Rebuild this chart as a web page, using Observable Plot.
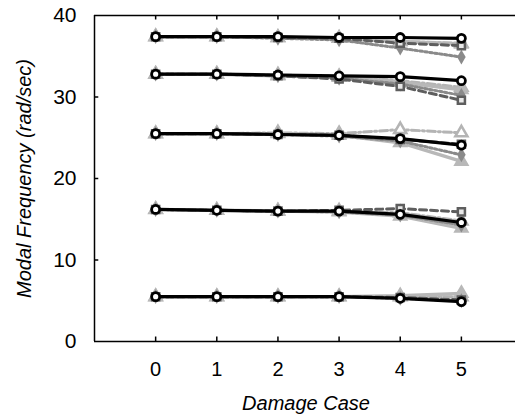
<!DOCTYPE html>
<html>
<head>
<meta charset="utf-8">
<script src="https://cdn.jsdelivr.net/npm/d3@7"></script>
<script src="https://cdn.jsdelivr.net/npm/@observablehq/plot@0.6"></script>
<style>
  html, body { margin: 0; padding: 0; background: #fff; }
  #chart svg { display: block; }
</style>
</head>
<body>
<div id="chart"></div>
<script>
// Damage cases (x) and axis ticks
const cases = [0, 1, 2, 3, 4, 5];
const xTicks = [0, 1, 2, 3, 4, 5];
const yTicks = [0, 10, 20, 30, 40];
const yInnerTicks = [10, 20, 30];

// Modal frequencies (rad/sec): one row per mode, one value per damage case
const seriesCircle = [
  [5.5, 5.5, 5.5, 5.5, 5.3, 4.9],
  [16.2, 16.1, 16.0, 16.0, 15.6, 14.6],
  [25.5, 25.5, 25.4, 25.3, 24.9, 24.1],
  [32.8, 32.8, 32.7, 32.6, 32.5, 32.0],
  [37.4, 37.4, 37.4, 37.3, 37.3, 37.2]
];
const seriesSquare = [
  [5.5, 5.5, 5.5, 5.5, 5.4, 5.1],
  [16.2, 16.1, 16.0, 16.1, 16.3, 15.9],
  [25.5, 25.5, 25.4, 25.3, 24.8, 24.2],
  [32.8, 32.8, 32.6, 32.2, 31.3, 29.6],
  [37.4, 37.4, 37.3, 37.2, 36.6, 36.3]
];
const seriesTriangle = [
  [5.5, 5.5, 5.5, 5.5, 5.6, 5.9],
  [16.2, 16.1, 16.0, 15.9, 15.4, 13.9],
  [25.5, 25.5, 25.5, 25.3, 24.4, 22.1],
  [32.8, 32.8, 32.6, 32.4, 31.8, 30.9],
  [37.4, 37.4, 37.3, 37.2, 36.8, 36.5]
];
const seriesDiamond = [
  [5.5, 5.5, 5.5, 5.5, 5.3, 5.0],
  [16.2, 16.1, 16.0, 15.9, 15.5, 14.3],
  [25.5, 25.5, 25.4, 25.2, 24.6, 22.9],
  [32.8, 32.8, 32.6, 32.3, 31.6, 30.2],
  [37.4, 37.4, 37.2, 37.0, 36.0, 34.9]
];
const seriesOpenTriangle = [
  [5.5, 5.5, 5.5, 5.5, 5.5, 5.5],
  [16.2, 16.1, 16.0, 16.0, 15.8, 14.8],
  [25.5, 25.5, 25.6, 25.5, 26.0, 25.6],
  [32.8, 32.8, 32.7, 32.5, 32.0, 31.2],
  [37.4, 37.4, 37.3, 37.2, 36.8, 36.6]
];

const xLabel = "Damage Case";
const yLabel = "Modal Frequency (rad/sec)";

function toRows(series) {
  const rows = [];
  series.forEach((vals, m) => vals.forEach((v, i) => rows.push({mode: m, c: cases[i], v})));
  return rows;
}
const rCircle = toRows(seriesCircle);
const rSquare = toRows(seriesSquare);
const rTriangle = toRows(seriesTriangle);
const rDiamond = toRows(seriesDiamond);
const rOpenTri = toRows(seriesOpenTriangle);

const font = "'Liberation Sans', Arial, Helvetica, sans-serif";

const chart = Plot.plot({
  width: 515,
  height: 415,
  marginLeft: 94,
  marginRight: 0,
  marginTop: 15,
  marginBottom: 74,
  style: {fontFamily: font, background: "#fff", color: "#000"},
  x: {domain: [-1, 5.885], axis: null},
  y: {domain: [0, 40], axis: null},
  marks: [
    Plot.axisX(xTicks, {anchor: "bottom", tickSize: 0, tickPadding: 20, fontSize: 20, label: null}),
    Plot.axisY(yTicks, {anchor: "left", tickSize: 0, tickPadding: 18, fontSize: 21, label: null}),
    // frame
    Plot.ruleX([-1], {stroke: "#000", strokeWidth: 1.5}),
    Plot.ruleY([0, 40], {stroke: "#000", strokeWidth: 1.5}),
    // inward ticks
    Plot.ruleX(xTicks, {x: d => d, y1: 0, y2: 0.55, stroke: "#000", strokeWidth: 1.5}),
    Plot.ruleX(xTicks, {x: d => d, y1: 40, y2: 39.45, stroke: "#000", strokeWidth: 1.5}),
    Plot.ruleY(yInnerTicks, {y: d => d, x1: -1, x2: -0.93, stroke: "#000", strokeWidth: 1.5}),
    // open triangles, light gray dash-dot
    Plot.line(rOpenTri, {x: "c", y: "v", z: "mode", stroke: "#b4b4b4", strokeWidth: 3, strokeDasharray: "8,3,2,3"}),
    Plot.dot(rOpenTri, {x: "c", y: "v", symbol: "triangle", r: 4.5, stroke: "#b4b4b4", strokeWidth: 2.5, fill: "#fff"}),
    // triangles, light gray solid
    Plot.line(rTriangle, {x: "c", y: "v", z: "mode", stroke: "#b8b8b8", strokeWidth: 3.5}),
    Plot.dot(rTriangle, {x: "c", y: "v", symbol: "triangle", r: 5, fill: "#b8b8b8", stroke: "#b8b8b8"}),
    // diamonds, gray dotted
    Plot.line(rDiamond, {x: "c", y: "v", z: "mode", stroke: "#8a8a8a", strokeWidth: 3, strokeDasharray: "2.5,2.5"}),
    Plot.dot(rDiamond, {x: "c", y: "v", symbol: "diamond", r: 4.5, fill: "#8a8a8a"}),
    // squares, dark gray dashed
    Plot.line(rSquare, {x: "c", y: "v", z: "mode", stroke: "#5e5e5e", strokeWidth: 3, strokeDasharray: "7,4"}),
    Plot.dot(rSquare, {x: "c", y: "v", symbol: "square", r: 4, stroke: "#5e5e5e", strokeWidth: 2.5, fill: "#e8e8e8"}),
    // circles, black solid
    Plot.line(rCircle, {x: "c", y: "v", z: "mode", stroke: "#000", strokeWidth: 3.2}),
    Plot.dot(rCircle, {x: "c", y: "v", symbol: "circle", r: 4, stroke: "#000", strokeWidth: 2.8, fill: "#fff"}),
    // axis titles
    Plot.text([xLabel], {frameAnchor: "bottom", text: d => d, dx: 1, dy: 54, lineAnchor: "top", textAnchor: "middle", fontSize: 20, fontStyle: "italic", fill: "#000"}),
    Plot.text([yLabel], {frameAnchor: "left", text: d => d, dx: -70, rotate: -90, textAnchor: "middle", lineAnchor: "middle", fontSize: 20, fontStyle: "italic", fill: "#000"})
  ]
});
document.getElementById("chart").appendChild(chart);
</script>
</body>
</html>
